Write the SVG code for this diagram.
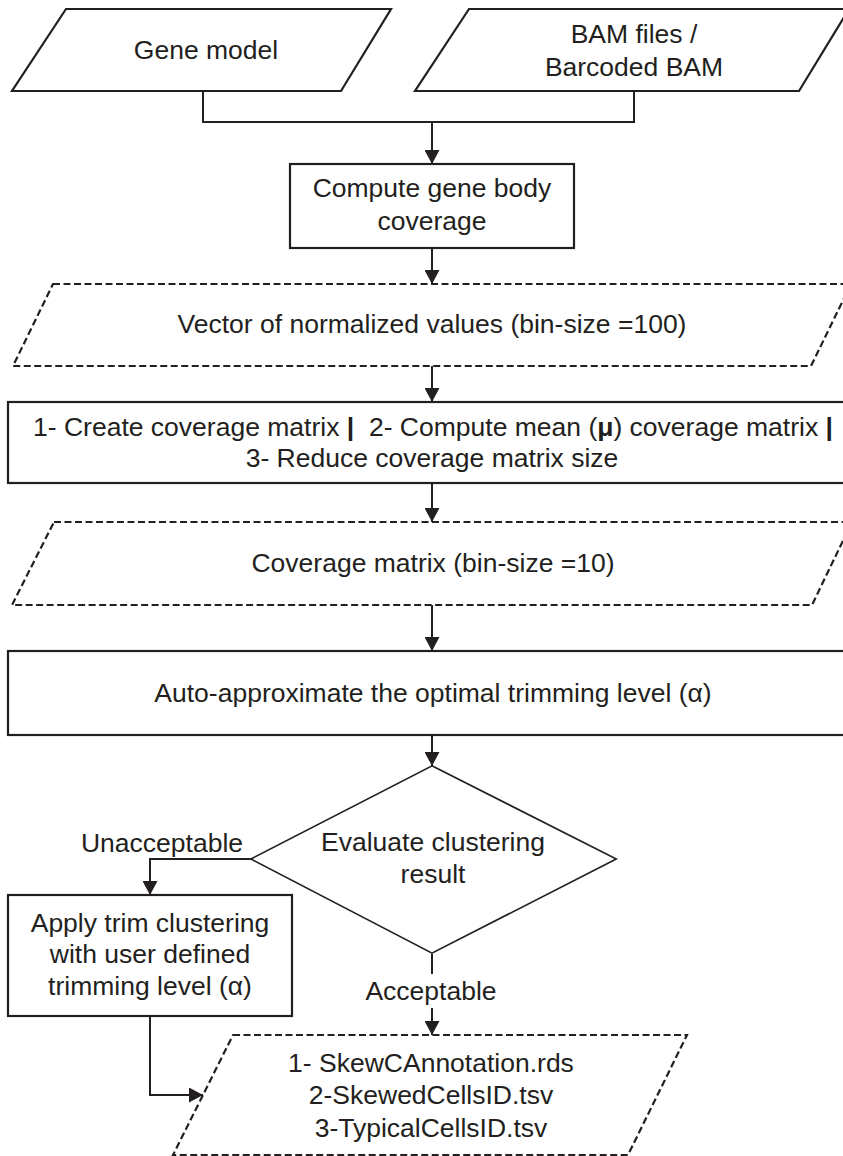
<svg xmlns="http://www.w3.org/2000/svg" width="843" height="1156" viewBox="0 0 843 1156">
<style>
  .shape { fill: #ffffff; stroke: #231f20; stroke-width: 2.2; }
  .dash { stroke-dasharray: 7 3.5; }
  .conn { fill: none; stroke: #231f20; stroke-width: 2; }
  text { font-family: "Liberation Sans", Arial, sans-serif; font-size: 26.5px; fill: #231f20; text-anchor: middle; }
  .b { font-weight: bold; }
</style>
<defs>
  <marker id="arr" markerUnits="userSpaceOnUse" markerWidth="14" markerHeight="15" viewBox="0 0 14 15" refX="14" refY="7.5" orient="auto">
    <path d="M0,0 L14,7.5 L0,15 Z" fill="#231f20"/>
  </marker>
</defs>
<rect width="843" height="1156" fill="#ffffff"/>

<g id="gene-model">
  <polygon class="shape" points="66,9 391,9 341,91 12,91"/>
  <text x="206" y="59">Gene model</text>
</g>
<g id="bam-files">
  <polygon class="shape" points="469,9 849,9 799,91 415,91"/>
  <text x="634" y="43">BAM files /</text>
  <text x="634" y="76">Barcoded BAM</text>
</g>
<g id="compute-coverage">
  <rect class="shape" x="290" y="164" width="284" height="84"/>
  <text x="432" y="197">Compute gene body</text>
  <text x="432" y="230">coverage</text>
</g>
<g id="vector-values">
  <polygon class="shape dash" points="53,284 851,284 811,366 13,366"/>
  <text x="432" y="333">Vector of normalized values (bin-size =100)</text>
</g>
<g id="coverage-steps">
  <rect class="shape" x="8" y="402" width="848" height="81"/>
  <text x="433" y="436" xml:space="preserve">1- Create coverage matrix <tspan class="b">|</tspan>  2- Compute mean (<tspan class="b">μ</tspan>) coverage matrix <tspan class="b">|</tspan></text>
  <text x="432" y="467">3- Reduce coverage matrix size</text>
</g>
<g id="coverage-matrix">
  <polygon class="shape dash" points="54,522 852,522 812,605 12,605"/>
  <text x="433" y="572">Coverage matrix (bin-size =10)</text>
</g>
<g id="auto-approx">
  <rect class="shape" x="8" y="651" width="848" height="84"/>
  <text x="433" y="702">Auto-approximate the optimal trimming level (α)</text>
</g>
<g id="evaluate">
  <polygon points="432,768 612,859 432,951 255,859" fill="#ffffff" stroke="#231f20" stroke-width="5.5" stroke-linejoin="miter"/>
  <polygon points="432,768 612,859 432,951 255,859" fill="#ffffff" stroke="#ffffff" stroke-width="2.2" stroke-linejoin="miter"/>
  <text x="433" y="851">Evaluate clustering</text>
  <text x="433" y="883">result</text>
</g>
<g id="apply-trim">
  <rect class="shape" x="8" y="895" width="284" height="121"/>
  <text x="150" y="932">Apply trim clustering</text>
  <text x="150" y="963">with user defined</text>
  <text x="150" y="995">trimming level (α)</text>
</g>
<g id="outputs">
  <polygon class="shape dash" points="233,1035 687,1035 628,1155 173,1155"/>
  <text x="431" y="1072">1- SkewCAnnotation.rds</text>
  <text x="431" y="1104">2-SkewedCellsID.tsv</text>
  <text x="431" y="1137">3-TypicalCellsID.tsv</text>
</g>

<g id="connectors">
  <polyline class="conn" points="203,91 203,122 634,122 634,91"/>
  <line class="conn" x1="432" y1="122" x2="432" y2="164" marker-end="url(#arr)"/>
  <line class="conn" x1="432" y1="248" x2="432" y2="284" marker-end="url(#arr)"/>
  <line class="conn" x1="432" y1="366" x2="432" y2="402" marker-end="url(#arr)"/>
  <line class="conn" x1="432" y1="483" x2="432" y2="522" marker-end="url(#arr)"/>
  <line class="conn" x1="432" y1="605" x2="432" y2="651" marker-end="url(#arr)"/>
  <line class="conn" x1="432" y1="735" x2="432" y2="766" marker-end="url(#arr)"/>
  <polyline class="conn" points="252,859 150,859 150,895" marker-end="url(#arr)"/>
  <text x="162" y="852">Unacceptable</text>
  <line class="conn" x1="432" y1="954" x2="432" y2="974"/>
  <text x="431" y="1000">Acceptable</text>
  <line class="conn" x1="432" y1="1008" x2="432" y2="1035" marker-end="url(#arr)"/>
  <polyline class="conn" points="150,1016 150,1095 203,1095" marker-end="url(#arr)"/>
</g>
</svg>
